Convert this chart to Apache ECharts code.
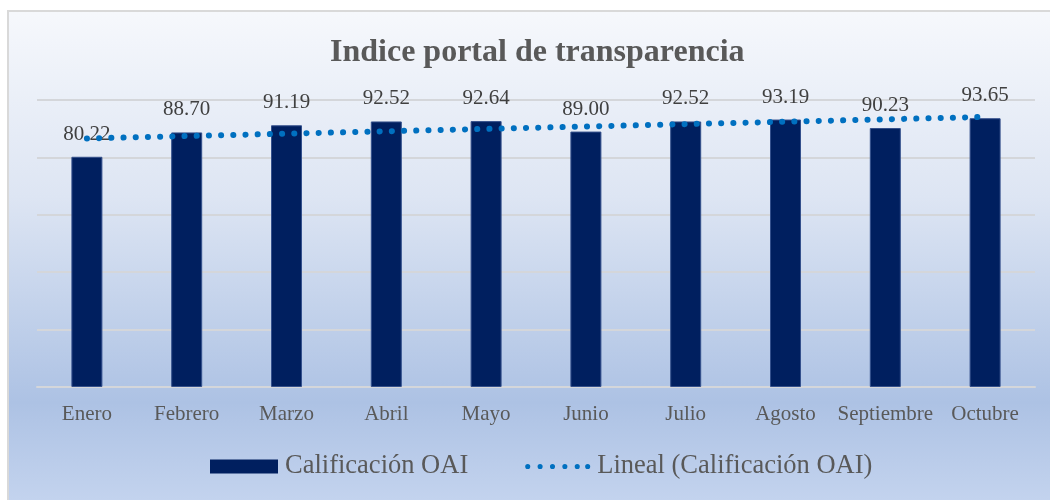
<!DOCTYPE html>
<html>
<head>
<meta charset="utf-8">
<script src="https://cdn.jsdelivr.net/npm/echarts@6/dist/echarts.min.js"></script>
<style>
  html, body { margin: 0; padding: 0; background: #fff; }
  #chart {
    position: absolute;
    left: 7px;
    top: 10px;
    width: 1041px;
    height: 488px;
    border-left: 2px solid #d9d9d9;
    border-top: 2px solid #d9d9d9;
  }
</style>
</head>
<body>
<div id="chart"></div>
<script>
// months on the x axis
var months = ["Enero", "Febrero", "Marzo", "Abril", "Mayo", "Junio", "Julio", "Agosto", "Septiembre", "Octubre"];
// Calificación OAI per month
var scores = [80.22, 88.70, 91.19, 92.52, 92.64, 89.00, 92.52, 93.19, 90.23, 93.65];
// linear trend, read at its two ends (the rest is joined by the line)
var trend = [86.6, null, null, null, null, null, null, null, null, 94.1];

var serif = "'Liberation Serif', 'Times New Roman', serif";

// dotted legend icon: six dots in a 68x14 box (corner points only set the box)
var dotIcon = "path://M0,0L0,0M68,14L68,14" +
  "M3,7a2.6,2.6 0 1 0 5.2,0a2.6,2.6 0 1 0 -5.2,0" +
  "M15.6,7a2.6,2.6 0 1 0 5.2,0a2.6,2.6 0 1 0 -5.2,0" +
  "M28.2,7a2.6,2.6 0 1 0 5.2,0a2.6,2.6 0 1 0 -5.2,0" +
  "M40.8,7a2.6,2.6 0 1 0 5.2,0a2.6,2.6 0 1 0 -5.2,0" +
  "M53.4,7a2.6,2.6 0 1 0 5.2,0a2.6,2.6 0 1 0 -5.2,0" +
  "M64,7a2.6,2.6 0 1 0 5.2,0a2.6,2.6 0 1 0 -5.2,0";

var chart = echarts.init(document.getElementById("chart"));
chart.setOption({
  backgroundColor: new echarts.graphic.LinearGradient(0, 0, 0, 1, [
    { offset: 0, color: "#f6f8fc" },
    { offset: 0.38, color: "#dde5f3" },
    { offset: 0.8, color: "#adc2e4" },
    { offset: 1, color: "#c3d3ee" }
  ]),
  title: {
    text: "Indice portal de transparencia",
    left: 316,
    top: 20,
    textStyle: {
      fontFamily: serif,
      fontWeight: "bold",
      fontSize: 32,
      color: "#595959"
    }
  },
  legend: {
    left: 196,
    top: 436,
    itemWidth: 68,
    itemHeight: 14,
    itemGap: 54,
    textStyle: {
      fontFamily: serif,
      fontSize: 26.5,
      color: "#595959",
      padding: [0, 0, 0, 2]
    },
    data: [
      { name: "Calificación OAI", icon: "rect", itemStyle: { borderWidth: 0 } },
      { name: "Lineal (Calificación OAI)", icon: dotIcon, itemStyle: { borderWidth: 0 } }
    ]
  },
  grid: {
    left: 28,
    right: 15,
    top: 88,
    bottom: 113
  },
  xAxis: {
    type: "category",
    data: months,
    axisTick: { show: false },
    axisLine: { lineStyle: { color: "#d4d6da", width: 2 } },
    axisLabel: {
      interval: 0,
      fontFamily: serif,
      fontSize: 21,
      color: "#595959",
      margin: 17
    }
  },
  yAxis: {
    type: "value",
    min: 0,
    max: 100,
    interval: 20,
    axisLabel: { show: false },
    axisLine: { show: false },
    axisTick: { show: false },
    splitLine: { lineStyle: { color: "#d4d6da", width: 2 } }
  },
  series: [
    {
      name: "Calificación OAI",
      type: "bar",
      data: scores,
      barWidth: 31,
      itemStyle: {
        color: "#001f5f",
        borderColor: "#34508c",
        borderWidth: 1
      },
      label: {
        show: true,
        position: "top",
        distance: 12,
        fontFamily: serif,
        fontSize: 21,
        color: "#404040",
        formatter: function (p) {
          return p.value.toFixed(2);
        }
      },
      z: 2
    },
    {
      name: "Lineal (Calificación OAI)",
      type: "line",
      data: trend,
      connectNulls: true,
      symbol: "none",
      lineStyle: {
        color: "#0070c0",
        width: 6,
        type: [0.1, 12.1],
        cap: "round"
      },
      itemStyle: { color: "#0070c0" },
      z: 3
    }
  ]
});
</script>
</body>
</html>
